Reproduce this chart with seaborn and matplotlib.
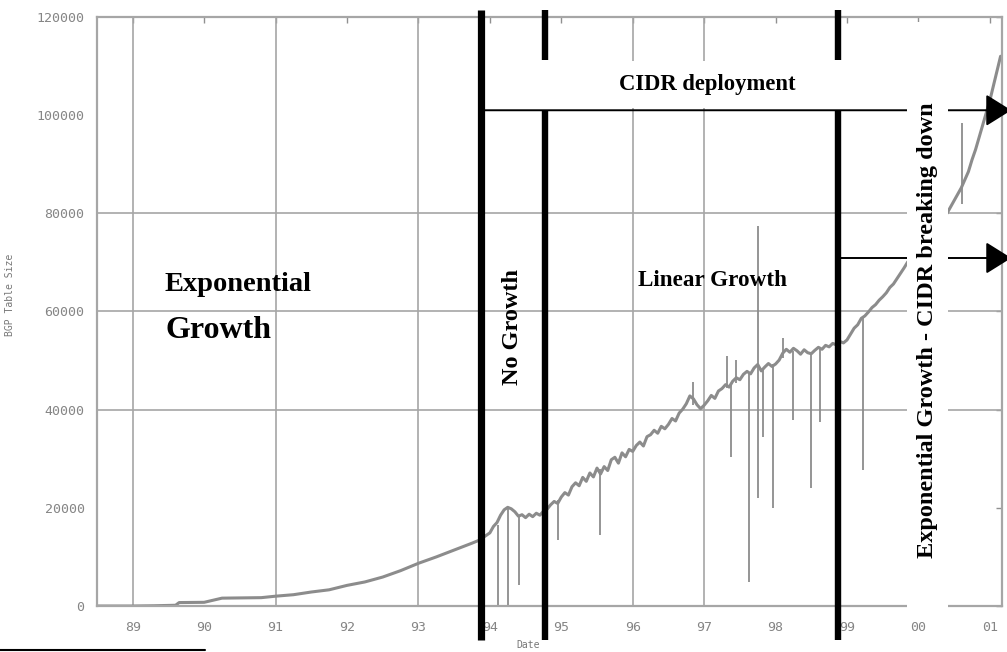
import matplotlib
matplotlib.use("Agg")
import matplotlib.pyplot as plt
import seaborn as sns
import pandas as pd
from matplotlib.patches import Rectangle
from matplotlib.lines import Line2D

# ---------------- data ----------------
years = [88.5, 89.0, 89.3, 89.6, 89.65, 90.0, 90.25, 90.5, 90.8, 91.0, 91.25, 91.5,
         91.75, 92.0, 92.25, 92.5, 92.75, 93.0, 93.25, 93.5, 93.75, 93.85,
         94.0, 94.05, 94.1, 94.15, 94.2, 94.25, 94.3, 94.35, 94.4, 94.45, 94.5, 94.55,
         94.6, 94.65, 94.7, 94.75, 94.8, 94.85, 94.9, 94.95, 95.0, 95.05, 95.1, 95.15,
         95.2, 95.25, 95.3, 95.35, 95.4, 95.45, 95.5, 95.55, 95.6, 95.65, 95.7, 95.75,
         95.8, 95.85, 95.9, 95.95, 96.0, 96.05, 96.1, 96.15, 96.2, 96.25, 96.3, 96.35,
         96.4, 96.45, 96.5, 96.55, 96.6, 96.65, 96.7, 96.75, 96.8, 96.85, 96.9, 96.95,
         97.0, 97.05, 97.1, 97.15, 97.2, 97.25, 97.3, 97.35, 97.4, 97.45, 97.5, 97.55,
         97.6, 97.65, 97.7, 97.75, 97.8, 97.85, 97.9, 97.95, 98.0, 98.05, 98.1, 98.15,
         98.2, 98.25, 98.3, 98.35, 98.4, 98.45, 98.5, 98.55, 98.6, 98.65, 98.7, 98.75,
         98.8, 98.85, 98.9, 98.95, 99.0, 99.05, 99.1, 99.15, 99.2, 99.25, 99.3, 99.35,
         99.4, 99.45, 99.5, 99.55, 99.6, 99.65, 99.7, 99.75, 99.8, 99.85, 100.0, 100.2,
         100.4, 100.5, 100.6, 100.7, 100.75, 100.8, 100.85, 100.9, 100.95, 101.0,
         101.05, 101.1, 101.15]
table_size = [0, 0, 50, 150, 700, 750, 1600, 1650, 1700, 2000, 2300, 2850,
              3300, 4200, 4900, 5900, 7200, 8700, 10000, 11400, 12800, 13400,
              14900, 16200, 17000, 18500, 19600, 20100, 19800, 19200, 18300, 18600, 18000, 18700,
              18200, 18900, 18500, 19300, 19700, 20600, 21300, 20900, 22200, 23100, 22600, 24300,
              25100, 24500, 26200, 25400, 27100, 26300, 28100, 26900, 28400, 27600, 29800, 30300,
              29100, 31200, 30400, 31900, 31500, 32700, 33400, 32600, 34500, 34900, 35800, 35200,
              36600, 36100, 37000, 38200, 37700, 39300, 40100, 41200, 42800, 42200, 41000, 40200,
              40900, 41800, 42900, 42300, 43800, 44300, 45100, 44600, 45800, 46500, 46100, 47200,
              47800, 47300, 48500, 49200, 47900, 48700, 49400, 48800, 49300, 50100, 51500, 52300,
              51700, 52500, 52000, 51300, 52200, 51600, 51400, 52100, 52700, 52300, 53100, 52800,
              53500, 53200, 53900, 53600, 54200, 55400, 56600, 57300, 58600, 59100, 59900, 60800,
              61400, 62300, 63000, 63800, 64900, 65600, 66700, 67800, 68900, 70100, 72000, 76000,
              80000, 82600, 85200, 88500, 90900, 93000, 95500, 98000, 100500, 103000,
              106000, 109000, 112000]

spike_years = [94.11, 94.25, 94.41, 94.95, 95.54, 96.84, 97.32, 97.38, 97.45, 97.63,
               97.75, 97.82, 97.96, 98.10, 98.24, 98.50, 98.62, 99.22, 100.61]
spike_low = [0, 0, 4300, 13400, 14500, 41000, 44500, 30400, 45500, 4900,
             22000, 34400, 20000, 50500, 37900, 24000, 37500, 27700, 82000]
spike_high = [16500, 19800, 18500, 21500, 28000, 45600, 51000, 45000, 50100, 47500,
              77500, 48500, 49300, 54600, 52000, 51600, 52500, 59000, 98400]

tick_years = list(range(89, 102))
tick_labels = ["89", "90", "91", "92", "93", "94", "95", "96", "97", "98", "99", "00", "01"]
size_ticks = [0, 20000, 40000, 60000, 80000, 100000, 120000]
size_labels = ["0", "20000", "40000", "60000", "80000", "100000", "120000"]
grid_years = [89, 91, 93, 96, 97]
grid_sizes = [40000, 60000, 80000]
phase_bounds = [93.87, 94.77, 98.87]

# ---------------- figure ----------------
sns.set_theme(style="white")
plt.rcParams["font.family"] = ["DejaVu Sans"]

W, H = 1007, 652
fig = plt.figure(figsize=(W / 100, H / 100), dpi=100)
fig.patch.set_facecolor("white")
ax = fig.add_axes([97 / W, 46 / H, 905 / W, 589 / H])
ax.set_facecolor("white")

GRAY = "#a6a6a6"
for s in ax.spines.values():
    s.set_color(GRAY)
    s.set_linewidth(1.6)

for gx in grid_years:
    ax.axvline(gx, color=GRAY, lw=1.2, zorder=1)
for gy in grid_sizes:
    ax.axhline(gy, color=GRAY, lw=1.2, zorder=1)

df = pd.DataFrame({"year": years, "size": table_size})
sns.lineplot(data=df, x="year", y="size", ax=ax, color="#8c8c8c", lw=2.2,
             sort=False, estimator=None, zorder=2)
ax.vlines(spike_years, spike_low, spike_high, color="#8c8c8c", lw=1.3, zorder=2)

ax.set_xlim(88.5, 101.17)
ax.set_ylim(0, 120000)
ax.set_xticks(tick_years, tick_labels)
ax.set_yticks(size_ticks, size_labels)
ax.tick_params(direction="in", length=4, width=1, color="#909090",
               top=True, right=True, labelsize=9.5, labelcolor="#858585")
ax.tick_params(axis="x", pad=11)
ax.tick_params(axis="y", pad=9)
for lab in ax.get_xticklabels() + ax.get_yticklabels():
    lab.set_family("DejaVu Sans Mono")
ax.set_xlabel("")
ax.set_ylabel("")

xt = ax.get_xaxis_transform()
# white box behind "CIDR deployment"
ax.add_patch(Rectangle((93.92, 0.845), 5.0, 0.08, transform=xt, facecolor="white",
                       edgecolor="none", zorder=3, clip_on=False))

# thick black phase boundaries
ax.plot([phase_bounds[0]] * 2, [-0.058, 1.012], transform=xt, color="black", lw=5.2,
        solid_capstyle="butt", clip_on=False, zorder=5)
for xb in phase_bounds[1:]:
    ax.plot([xb, xb], [0.927, 1.012], transform=xt, color="black", lw=4.6,
            solid_capstyle="butt", clip_on=False, zorder=5)
    ax.plot([xb, xb], [-0.058, 0.842], transform=xt, color="black", lw=4.6,
            solid_capstyle="butt", clip_on=False, zorder=5)

# arrows
arrow_kw = dict(arrowstyle="-|>,head_length=0.8,head_width=0.5", color="black",
                lw=1.4, mutation_scale=20, shrinkA=0, shrinkB=0)
ax.annotate("", xy=(101.3, 101000), xytext=(phase_bounds[0], 101000),
            arrowprops=arrow_kw, annotation_clip=False, zorder=4)
ax.annotate("", xy=(101.3, 70900), xytext=(phase_bounds[2], 70900),
            arrowprops=arrow_kw, annotation_clip=False, zorder=4)

# white strip behind rotated text (covers the lines and the axis)
ax.add_patch(Rectangle((99.84, -0.015), 0.57, 1.0065, transform=xt, facecolor="white",
                       edgecolor="none", zorder=6, clip_on=False))

SERIF = ["Liberation Serif", "DejaVu Serif"]
tkw = dict(family=SERIF, fontweight="bold", color="black", zorder=7)
ax.text(89.45, 0.545, "Exponential", transform=xt, ha="left", va="center", fontsize=20.5, **tkw)
ax.text(89.46, 0.468, "Growth", transform=xt, ha="left", va="center", fontsize=23, **tkw)
ax.text(94.31, 0.474, "No Growth", transform=xt, ha="center", va="center",
        rotation=90, fontsize=17.5, **tkw)
ax.text(97.11, 0.553, "Linear Growth", transform=xt, ha="center", va="center", fontsize=16.7, **tkw)
ax.text(97.05, 0.885, "CIDR deployment", transform=xt, ha="center", va="center",
        fontsize=16.3, **tkw)
ax.text(100.12, 0.469, "Exponential Growth - CIDR breaking down", transform=xt,
        ha="center", va="center", rotation=90, fontsize=17.5, **tkw)

fig.text(10 / W, 1 - 295 / H, "BGP Table Size", rotation=90, ha="center", va="center",
         fontsize=7, color="#777777", family="DejaVu Sans Mono")
fig.text(528 / W, 1 - 645 / H, "Date", ha="center", va="center",
         fontsize=7, color="#777777", family="DejaVu Sans Mono")

fig.add_artist(Line2D([0, 205 / W], [2 / H, 2 / H], color="black", lw=1.5))

fig.savefig("out.png", dpi=100, facecolor="white")
